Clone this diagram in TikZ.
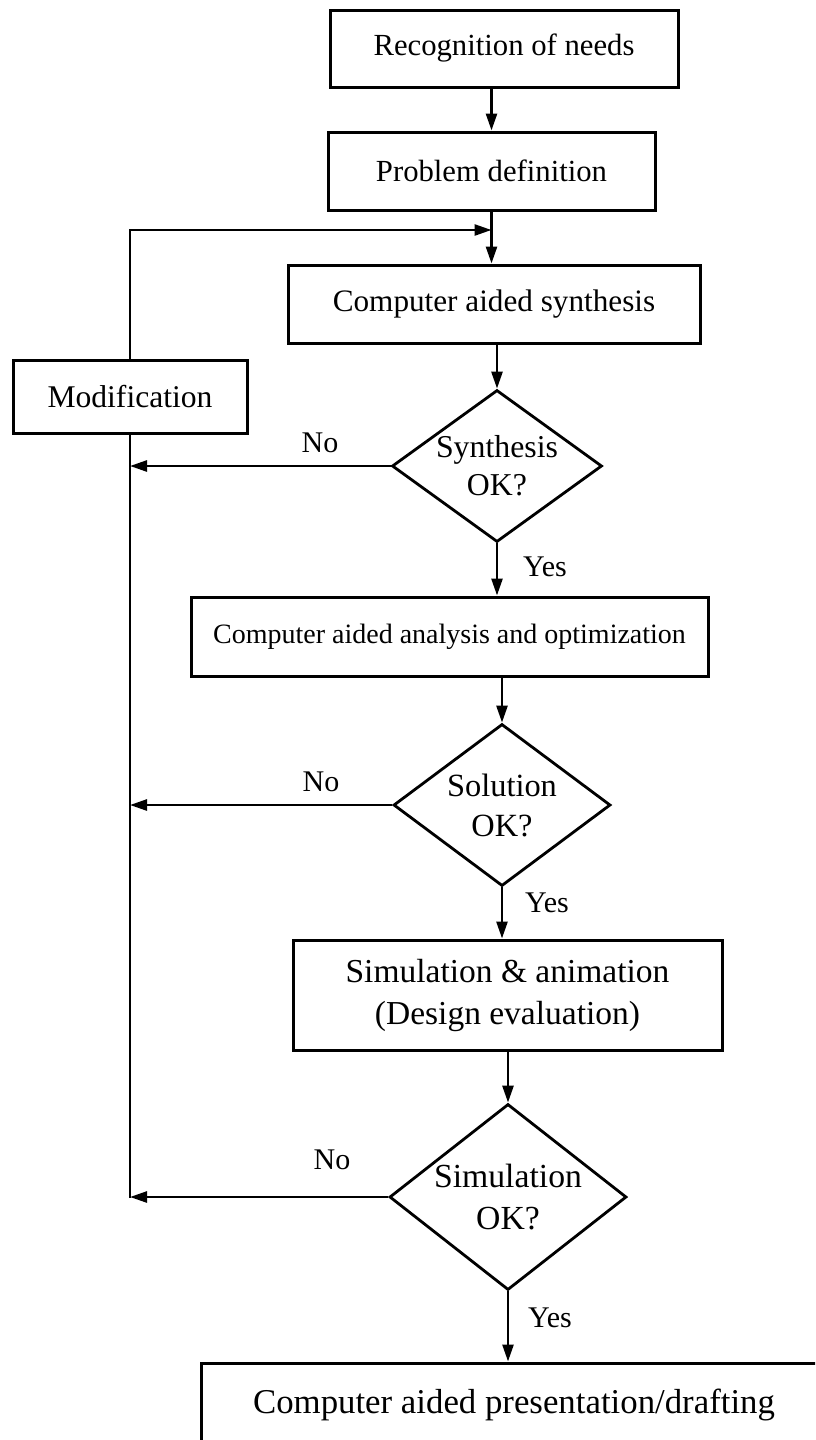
\documentclass[tikz,border=0pt]{standalone}
\usepackage{fontspec}
\setmainfont{Liberation Serif}
\usetikzlibrary{shapes.geometric,arrows.meta}
\newcommand{\fs}[1]{\fontsize{#1}{1.3\dimexpr#1pt\relax}\selectfont}
\begin{document}
\begin{tikzpicture}[x=1pt,y=-1pt,
  box/.style={draw,line width=3pt,inner sep=0pt,align=center},
  dec/.style={draw,diamond,line width=2.8pt,inner sep=0pt},
  dtext/.style={align=center,inner sep=0pt},
  link/.style={line width=2.6pt},
  arr/.style={link,-{Triangle[length=17pt,width=11pt]}},
  lbl/.style={inner sep=0pt,font=\fs{30}}
]
\useasboundingbox (0,0) rectangle (815,1440);
\clip (0,0) rectangle (815,1440);

% process boxes
\node[box,minimum width=348pt,minimum height=77pt,font=\fs{30.7}] (rec) at (504,48.5) {Recognition of needs};
\node[box,minimum width=327pt,minimum height=78pt,font=\fs{30.7}] (prob) at (491.5,171) {Problem definition};
\node[box,minimum width=412pt,minimum height=78pt,font=\fs{31.2}] (syn) at (494,304) {Computer aided synthesis};
\node[box,minimum width=234pt,minimum height=73pt,font=\fs{31.6}] (mod) at (130,396.5) {Modification};
\node[box,minimum width=517pt,minimum height=79pt,font=\fs{28}] (ana) at (449.5,636.5) {Computer aided analysis and optimization};
\node[box,minimum width=429pt,minimum height=110pt,font=\fontsize{33.5}{42}\selectfont] (sim) at (507.5,995) {Simulation \& animation\\(Design evaluation)};
\node[box,minimum width=626pt,minimum height=84pt,font=\fs{34.8}] (fin) at (514,1405) {Computer aided presentation/drafting};

% decisions
\node[dec,minimum width=210pt,minimum height=152pt,
  label={[dtext,font=\fontsize{31.8}{38}\selectfont]center:Synthesis\\OK?}] (dsyn) at (497,466) {};
\node[dec,minimum width=217pt,minimum height=162pt,
  label={[dtext,font=\fontsize{32.4}{40}\selectfont]center:Solution\\OK?}] (dsol) at (502,805) {};
\node[dec,minimum width=237pt,minimum height=186pt,
  label={[dtext,font=\fontsize{33.7}{42}\selectfont]center:Simulation\\OK?}] (dsim) at (508,1197) {};

% branch labels
\node[lbl] (noA) at (320,443) {No};
\node[lbl] (yesA) at (545,567) {Yes};
\node[lbl] (noB) at (321,782) {No};
\node[lbl] (yesB) at (547,903) {Yes};
\node[lbl] (noC) at (332,1160) {No};
\node[lbl] (yesC) at (550,1318) {Yes};

% feedback bus
\coordinate (fbend) at (491.5,230);
\coordinate (busend) at (130,1198);

% main flow
\draw[arr] (rec.south -| prob.north) -- (prob.north);
\draw[arr] (prob.south) -- (prob.south |- syn.north);
\draw[arr] (syn.south -| dsyn.north) -- (dsyn.north);
\draw[arr] (dsyn.south) -- (dsyn.south |- ana.north);
\draw[arr] (ana.south -| dsol.north) -- (dsol.north);
\draw[arr] (dsol.south) -- (dsol.south |- sim.north);
\draw[arr] (sim.south -| dsim.north) -- (dsim.north);
\draw[arr] (dsim.south) -- (dsim.south |- fin.north);

% rejections and modification loop
\draw[arr] (dsyn.west) -- (dsyn.west -| mod.south);
\draw[arr] (dsol.west) -- (dsol.west -| mod.south);
\draw[arr] (dsim.west) -- (dsim.west -| mod.south);
\draw[link] (mod.south) -- (busend);
\draw[arr] (mod.north) |- (fbend);
\end{tikzpicture}
\end{document}
